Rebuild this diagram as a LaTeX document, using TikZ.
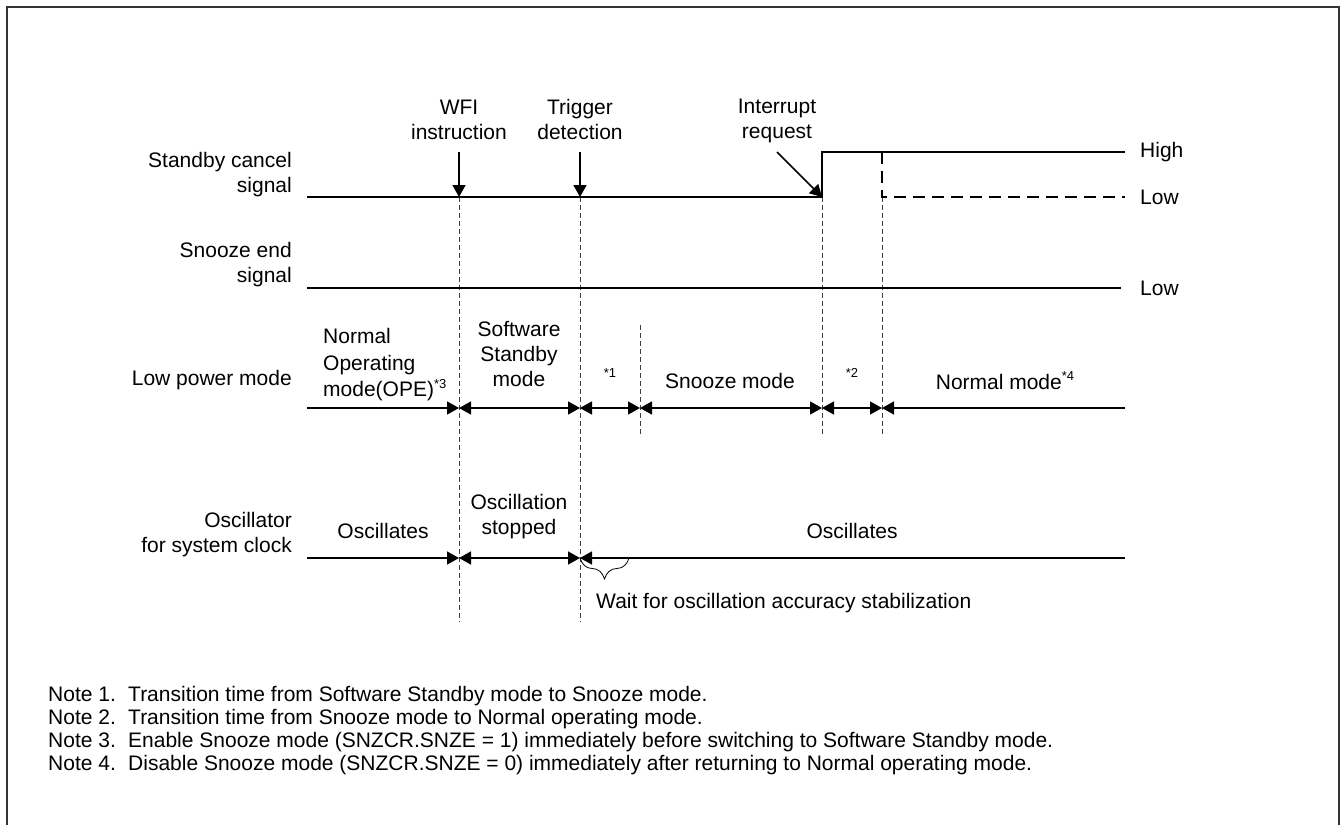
\documentclass[tikz,border=0pt]{standalone}
\usepackage{fontspec}
\setmainfont{Liberation Sans}
\usetikzlibrary{arrows.meta,decorations.pathreplacing}
\newcommand\mysup[1]{\raisebox{0.42em}{\fontsize{13}{13}\selectfont #1}}
\begin{document}
\begin{tikzpicture}[x=1pt,y=-1pt,
  sig/.style={line width=1.6pt},
  guide/.style={line width=0.8pt, dash pattern=on 5pt off 3pt, draw=black!75},
  dsig/.style={line width=1.6pt, dash pattern=on 12pt off 7pt},
  tipr/.style={line width=1.6pt,-{Triangle[length=12pt,width=13pt]}},
  dtip/.style={line width=1.6pt,{Triangle[length=12pt,width=13pt]}-{Triangle[length=12pt,width=13pt]}},
  txt/.style={font=\fontsize{21}{25}\selectfont, inner sep=0pt, align=center},
  lft/.style={txt, align=right, anchor=east},
  note/.style={font=\fontsize{21}{23}\selectfont, inner sep=0pt, anchor=base west},
  brc/.style={line width=0.8pt, decorate, decoration={brace, mirror, amplitude=21pt}}
]
\useasboundingbox (0,0) rectangle (1340,824);
\draw[line width=2pt, draw=black!80] (7,7) rectangle (1338.5,830);

% ---- coordinates
\coordinate (s0) at (307,197);
\coordinate (sI) at (822,197);
\coordinate (sIh) at (822,152);
\coordinate (sEh) at (1125,152);
\coordinate (s2h) at (882,152);
\coordinate (s2l) at (882,197);
\coordinate (sEl) at (1125,197);
\coordinate (z0) at (307,288);
\coordinate (zE) at (1121,288);
\coordinate (wa) at (459,152);
\coordinate (wb) at (459,197);
\coordinate (ta) at (580,152);
\coordinate (tb) at (580,197);
\coordinate (ia) at (777,152);
\coordinate (l0) at (307,408);
\coordinate (lW) at (459,408);
\coordinate (lT) at (580,408);
\coordinate (l1) at (640,408);
\coordinate (lI) at (822,408);
\coordinate (l2) at (882,408);
\coordinate (lE) at (1125,408);
\coordinate (o0) at (307,558);
\coordinate (oW) at (459,558);
\coordinate (oT) at (580,558);
\coordinate (oB) at (629,558);
\coordinate (oE) at (1125,558);
\coordinate (gWe) at (459,622);
\coordinate (gTe) at (580,622);
\coordinate (g1s) at (640,325);
\coordinate (g1e) at (640,437);
\coordinate (gIe) at (822,437);
\coordinate (g2e) at (882,437);

% ---- guide lines
\draw[guide] (wb) -- (gWe);
\draw[guide] (tb) -- (gTe);
\draw[guide] (g1s) -- (g1e);
\draw[guide] (sI) -- (gIe);
\draw[guide] (s2l) -- (g2e);

% ---- signals
\draw[sig] (s0) -- (sI) -- (sIh) -- (sEh);
\draw[dsig] (s2h) -- (s2l) -- (sEl);
\draw[sig] (z0) -- (zE);

% ---- event arrows
\draw[tipr] (wa) -- (wb);
\draw[tipr] (ta) -- (tb);
\draw[tipr] (ia) -- (sI);

% ---- low power mode arrows
\draw[tipr] (l0) -- (lW);
\draw[dtip] (lW) -- (lT);
\draw[dtip] (lT) -- (l1);
\draw[dtip] (l1) -- (lI);
\draw[dtip] (lI) -- (l2);
\draw[tipr] (lE) -- (l2);

% ---- oscillator arrows
\draw[tipr] (o0) -- (oW);
\draw[dtip] (oW) -- (oT);
\draw[tipr] (oE) -- (oT);
\draw[brc] (oT) -- (oB);

% ---- labels
\node[txt] (nwfi) at (459,119.5) {WFI\\instruction};
\node[txt] (ntrg) at (580,119.5) {Trigger\\detection};
\node[txt] (nint) at (777,121) {Interrupt\\request};

\node[lft] (nsc) at (292,175) {Standby cancel\\signal};
\node[lft] (nse) at (292,264.5) {Snooze end\\signal};
\node[lft] (nlp) at (292,380) {Low power mode};
\node[lft] (nos) at (292,535) {Oscillator\\for system clock};

\node[txt, anchor=west] (nhi) at (1140,152) {High};
\node[txt, anchor=west] (nlo1) at (1140,197) {Low};
\node[txt, anchor=west] (nlo2) at (1140,288) {Low};

\node[txt, align=left, anchor=west, font=\fontsize{21}{26.5}\selectfont] (nnop) at (323,365) {Normal\\Operating\\mode(OPE)\mysup{*3}};
\node[txt] (nsws) at (519,354) {Software\\Standby\\mode};
\node[txt] (nn1) at (610,373) {\fontsize{13}{13}\selectfont *1};
\node[txt] (nsnz) at (730,381) {Snooze mode};
\node[txt] (nn2) at (852,373) {\fontsize{13}{13}\selectfont *2};
\node[txt] (nnm) at (1005,381) {Normal mode\mysup{*4}};

\node[txt] (nosc1) at (383,531) {Oscillates};
\node[txt] (nost) at (519,517) {Oscillation\\stopped};
\node[txt] (nosc2) at (852,531) {Oscillates};
\node[txt, anchor=west] (nwait) at (596,603) {Wait for oscillation accuracy stabilization};

% ---- notes
\node[note] (n1) at (48,701) {Note 1.};
\node[note] (n1t) at (128,701) {Transition time from Software Standby mode to Snooze mode.};
\node[note] (n2) at (48,724) {Note 2.};
\node[note] (n2t) at (128,724) {Transition time from Snooze mode to Normal operating mode.};
\node[note] (n3) at (48,747) {Note 3.};
\node[note] (n3t) at (128,747) {Enable Snooze mode (SNZCR.SNZE = 1) immediately before switching to Software Standby mode.};
\node[note] (n4) at (48,770) {Note 4.};
\node[note] (n4t) at (128,770) {Disable Snooze mode (SNZCR.SNZE = 0) immediately after returning to Normal operating mode.};
\end{tikzpicture}
\end{document}
